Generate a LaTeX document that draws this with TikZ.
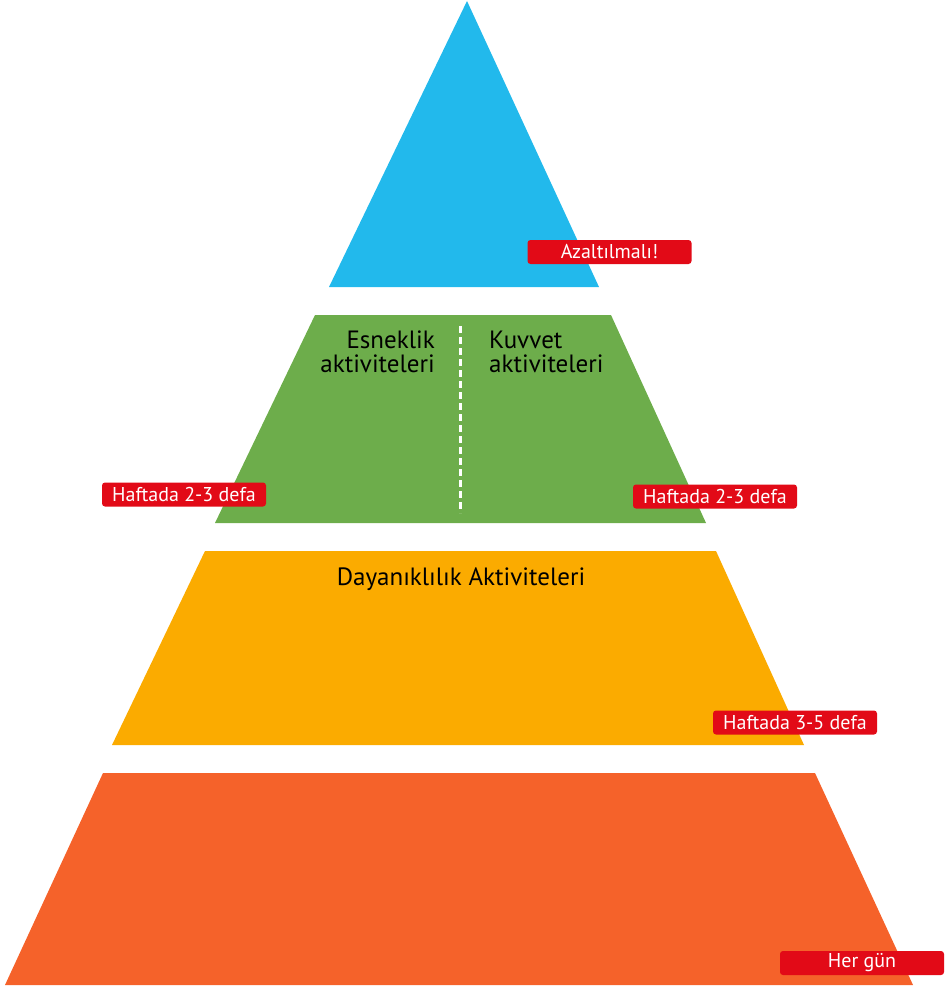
\documentclass[tikz,border=0pt]{standalone}
\usepackage{fontspec}
\setmainfont{PT Sans}
\usepackage{tikz}
\usetikzlibrary{positioning}

\definecolor{topblue}{HTML}{22B9EC}
\definecolor{midgreen}{HTML}{6DAD4B}
\definecolor{lowyellow}{HTML}{FBAB00}
\definecolor{baseorange}{HTML}{F5622A}
\definecolor{tagred}{HTML}{E20A17}

\begin{document}
\begin{tikzpicture}[
  x=1pt,y=-1pt,
  % Styles
  layer/.style={draw=none},
  tag/.style={fill=tagred,rounded corners=3pt,text=white,font=\fontsize{20}{22}\selectfont,minimum width=164pt,minimum height=24pt,inner sep=0pt},
  caption/.style={font=\fontsize{25}{24}\selectfont,inner sep=0pt},
  divider/.style={white,line width=3pt,dash pattern=on 7pt off 4pt},
  ]
\useasboundingbox (0,0) rectangle (951,990);

%--- Pyramid layers ------------------------------------------------
% Top: to be reduced
\fill[layer,topblue] (467,1) -- (599,287) -- (329,287) -- cycle;
% Flexibility / strength
\fill[layer,midgreen] (315,315) -- (611,315) -- (706,523) -- (215,523) -- cycle;
% Endurance
\fill[layer,lowyellow] (205,551) -- (716,551) -- (804,745) -- (112,745) -- cycle;
% Every day
\fill[layer,baseorange] (103,773) -- (815,773) -- (913,985) -- (5,985) -- cycle;

%--- Texts inside layers -------------------------------------------
\node[caption,align=right,anchor=north east] (flex) at (435,331) {Esneklik\\aktiviteleri};
\node[caption,align=left,anchor=north west] (str) at (489,331) {Kuvvet\\aktiviteleri};
\node[caption,anchor=base] (endur) at (461,585) {Dayanıklılık Aktiviteleri};

% Dashed split of the green layer
\coordinate (splittop) at (460,326);
\coordinate (splitbot) at (460,513);
\draw[divider] (splittop) -- (splitbot);

%--- Frequency tags ------------------------------------------------
\node[tag] (reduce) at (609.5,252) {Azaltılmalı!};
\node[tag] (flexfreq) at (184,494.5) {Haftada 2-3 defa};
\node[tag] (strfreq) at (715,496.5) {Haftada 2-3 defa};
\node[tag] (endurfreq) at (795,722.5) {Haftada 3-5 defa};
\node[tag] (daily) at (862,963) {Her gün};

\end{tikzpicture}
\end{document}
